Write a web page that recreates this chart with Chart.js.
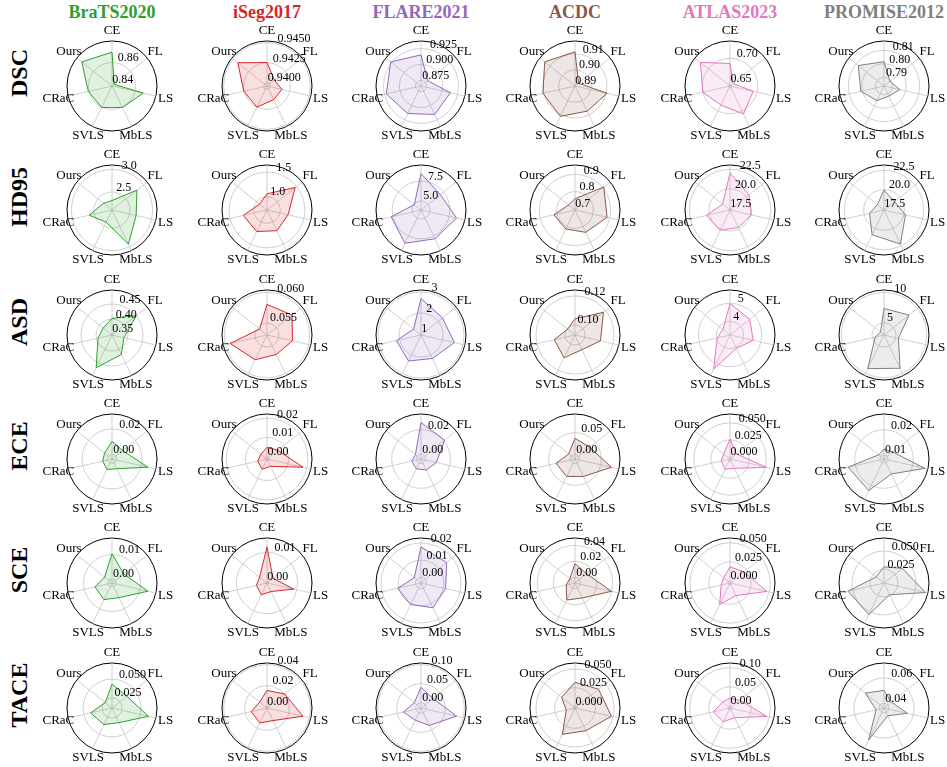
<!DOCTYPE html>
<html><head><meta charset="utf-8">
<script src="https://cdn.jsdelivr.net/npm/chart.js@4.4.1/dist/chart.umd.min.js"></script>
<style>
body{margin:0;background:#fff;width:947px;height:767px;overflow:hidden;position:relative;font-family:"Liberation Serif","Times New Roman",serif;}
canvas{position:absolute;}
.title{position:absolute;font-weight:bold;font-size:18px;line-height:1;transform:translate(-50%,-50%);white-space:nowrap;}
.rowlab{position:absolute;font-weight:bold;font-size:24px;line-height:1;transform:translate(-50%,-50%) rotate(-90deg);white-space:nowrap;color:#000;}
</style></head><body>
<script>
const categories = ['CE','FL','LS','MbLS','SVLS','CRaC','Ours'];
const datasetNames = ['BraTS2020','iSeg2017','FLARE2021','ACDC','ATLAS2023','PROMISE2012'];
const metricNames = ['DSC','HD95','ASD','ECE','SCE','TACE'];
const datasetColors = ['#2ca02c','#d62728','#9467bd','#8c564b','#e377c2','#7f7f7f'];

// ---- DSC ----
const DSC_values = [
  [0.8691,0.8416,0.8675,0.8603,0.8603,0.8607,0.8734],
  [0.94251,0.94076,0.94149,0.94149,0.94251,0.94256,0.94425],
  [0.9149,0.8795,0.9135,0.9156,0.9142,0.9220,0.9269],
  [0.9114,0.8925,0.9106,0.9074,0.9111,0.9106,0.9143],
  [0.6900,0.6543,0.6926,0.7065,0.6874,0.7004,0.7196],
  [0.8016,0.7893,0.7956,0.7919,0.7956,0.8012,0.8079]
];
const DSC_ticks = [['0.84','0.86'],['0.9400','0.9425','0.9450'],['0.875','0.900','0.925'],['0.89','0.90','0.91'],['0.65','0.70'],['0.79','0.80','0.81']];
const DSC_limits = [[0.8392,0.8790],[0.93958,0.94521],[0.8661,0.9368],[0.8896,0.9183],[0.6465,0.7335],[0.7836,0.8169]];

// ---- HD95 ----
const HD95_values = [
  [2.312,2.808,2.649,2.937,2.401,2.619,2.341],
  [1.058,1.462,1.168,1.196,1.214,1.223,0.921],
  [8.454,6.982,8.454,7.888,8.511,7.718,4.943],
  [0.759,0.907,0.884,0.837,0.816,0.819,0.741],
  [22.02,20.42,20.13,19.79,20.19,20.42,18.53],
  [19.93,19.12,20.22,22.26,20.92,19.29,18.48]
];
const HD95_ticks = [['2.5','3.0'],['1.0','1.5'],['5.0','7.5'],['0.7','0.8','0.9'],['17.5','20.0','22.5'],['17.5','20.0','22.5']];
const HD95_limits = [[2.103,3.096],[0.728,1.645],[3.867,9.53],[0.694,0.954],[17.33,23.05],[17.37,23.19]];

// ---- ASD ----
const ASD_values = [
  [0.4022,0.4502,0.3872,0.4187,0.4682,0.3947,0.3842],
  [0.05803,0.05825,0.05730,0.05656,0.05752,0.05921,0.05458],
  [2.688,2.259,2.581,2.195,2.324,2.152,1.402],
  [0.1043,0.1182,0.1111,0.1043,0.1105,0.1077,0.0996],
  [4.99,4.64,4.565,4.065,5.34,3.965,3.74],
  [7.37,8.25,5.46,9.06,9.13,4.51,3.77]
];
const ASD_ticks = [['0.35','0.40','0.45'],['0.055','0.060'],['1','2','3'],['0.10','0.12'],['4','5'],['5','10']];
const ASD_limits = [[0.3467,0.4967],[0.05304,0.06038],[0.952,3.095],[0.0931,0.1241],[3.24,5.74],[3.04,10.38]];

// ---- ECE ----
const ECE_values = [
  [0.0102,0.0070,0.0254,0.0048,0.0055,0.0038,0.0038],
  [0.0049,0.0061,0.0180,0.0031,0.0047,0.0038,0.0029],
  [0.0258,0.0207,0.0090,0.0061,0.0050,0.0039,0.0020],
  [0.0370,0.0328,0.0754,0.0339,0.0339,0.0339,0.0079],
  [0.0259,0.0087,0.0517,0.0120,0.0134,0.0100,0.0087],
  [0.01233,0.01286,0.02494,0.01499,0.02227,0.02298,0.01108]
];
const ECE_ticks = [['0.00','0.02'],['0.00','0.01','0.02'],['0.00','0.02'],['0.00','0.05'],['0.000','0.025','0.050'],['0.01','0.02']];
const ECE_limits = [[-0.00368,0.0318],[-0.0011,0.02216],[-0.0038,0.0327],[-0.0108,0.0931],[-0.0032,0.063],[0.00842,0.02618]];

// ---- SCE ----
const SCE_values = [
  [0.01030,0.00443,0.01342,0.00498,0.00590,0.00553,0.00223],
  [0.01182,0.00216,0.00891,0.00277,0.00400,0.00323,0.00277],
  [0.0177,0.0158,0.0114,0.0127,0.0106,0.0106,0.0017],
  [0.0171,0.0115,0.0396,0.0137,0.0165,0.0042,0.0013],
  [0.0184,0.0208,0.0469,0.0155,0.0285,0.0090,0.0078],
  [0.0281,0.0381,0.0649,0.0237,0.0543,0.0568,0.0193]
];
const SCE_ticks = [['0.00','0.01'],['0.00','0.01'],['0.00','0.01','0.02'],['0.00','0.02','0.04'],['0.000','0.025','0.050'],['0.025','0.050']];
const SCE_limits = [[-0.00163,0.01673],[-0.00045,0.01489],[-0.0033,0.0229],[-0.0071,0.0492],[-0.0029,0.0564],[0.00556,0.0681]];

// ---- TACE ----
const TACE_values = [
  [0.0432,0.0367,0.0610,0.0332,0.0361,0.0409,0.0231],
  [0.0154,0.0202,0.0339,0.0120,0.0146,0.0141,0.0077],
  [0.0405,0.0263,0.0819,0.0369,0.0215,0.0334,0.0085],
  [0.0321,0.0381,0.0478,0.0315,0.0369,0.0098,0.0207],
  [0.0206,0.0276,0.0933,0.0229,0.0347,0.0394,0.0194],
  [0.0502,0.0438,0.0552,0.0431,0.0644,0.0427,0.0552]
];
const TACE_ticks = [['0.025','0.050'],['0.00','0.02','0.04'],['0.00','0.05','0.10'],['0.000','0.025','0.050'],['0.00','0.05','0.10'],['0.04','0.06']];
const TACE_limits = [[0.01184,0.0711],[-0.0013,0.0416],[-0.0140,0.1044],[-0.0022,0.058],[-0.0052,0.1121],[0.03632,0.07184]];

const metricValues = [DSC_values, HD95_values, ASD_values, ECE_values, SCE_values, TACE_values];
const metricTicks = [DSC_ticks, HD95_ticks, ASD_ticks, ECE_ticks, SCE_ticks, TACE_ticks];
const metricLimits = [DSC_limits, HD95_limits, ASD_limits, ECE_limits, SCE_limits, TACE_limits];

// ---- layout ----
const COL_X0 = 112.3, COL_DX = 154.3, ROW_Y0 = 86, ROW_DY = 124.3;
const R = 45, CW = 170, CH = 140;

function hexA(hex, a) {
  const n = parseInt(hex.slice(1), 16);
  return `rgba(${(n>>16)&255},${(n>>8)&255},${n&255},${a})`;
}

const labelPlugin = {
  id: 'polarLabels',
  afterDraw(chart, args, opts) {
    const s = chart.scales.r, ctx = chart.ctx;
    ctx.save();
    ctx.fillStyle = '#000';
    ctx.font = '13px "Liberation Serif"';
    ctx.textAlign = 'center';
    ctx.textBaseline = 'middle';
    categories.forEach((c, i) => {
      const p = s.getPointPosition(i, s.drawingArea + 10);
      ctx.fillText(c, p.x, p.y);
    });
    ctx.font = '12px "Liberation Serif"';
    ctx.textAlign = 'left';
    ctx.textBaseline = 'bottom';
    const a = 14 * Math.PI / 180;
    (opts.labels || []).forEach(t => {
      const d = s.getDistanceFromCenterForValue(parseFloat(t));
      ctx.fillText(t, s.xCenter + d * Math.sin(a), s.yCenter - d * Math.cos(a) + 1);
    });
    ctx.restore();
  }
};

datasetNames.forEach((name, j) => {
  const t = document.createElement('div');
  t.className = 'title';
  t.textContent = name;
  t.style.color = datasetColors[j];
  t.style.left = Math.round(COL_X0 + COL_DX * j) + 'px';
  t.style.top = '12px';
  document.body.appendChild(t);
});

metricNames.forEach((m, i) => {
  const cy = Math.round(ROW_Y0 + ROW_DY * i);
  const rl = document.createElement('div');
  rl.className = 'rowlab';
  rl.textContent = m;
  rl.style.left = '19px';
  rl.style.top = (cy - 13) + 'px';
  document.body.appendChild(rl);

  datasetNames.forEach((name, j) => {
    const cx = Math.round(COL_X0 + COL_DX * j);
    const cv = document.createElement('canvas');
    cv.width = CW; cv.height = CH;
    cv.style.left = (cx - CW / 2) + 'px';
    cv.style.top = (cy - CH / 2) + 'px';
    document.body.appendChild(cv);

    const [mn, mx] = metricLimits[i][j];
    const tickLabels = metricTicks[i][j];
    const tickVals = [mn, ...tickLabels.map(parseFloat), mx];
    const color = datasetColors[j];

    new Chart(cv, {
      type: 'radar',
      data: {
        labels: categories,
        datasets: [{
          data: metricValues[i][j],
          borderColor: color,
          backgroundColor: hexA(color, 0.15),
          borderWidth: 1,
          pointRadius: 0,
          pointHoverRadius: 0,
          fill: 'start',
          tension: 0
        }]
      },
      options: {
        responsive: false,
        animation: false,
        devicePixelRatio: 1,
        layout: { padding: { left: CW / 2 - R, right: CW / 2 - R, top: CH / 2 - R, bottom: CH / 2 - R } },
        plugins: { legend: { display: false }, tooltip: { enabled: false }, polarLabels: { labels: tickLabels } },
        scales: {
          r: {
            min: mn, max: mx,
            startAngle: 0,
            ticks: { display: false },
            pointLabels: { display: false },
            grid: {
              circular: true,
              color: (ctx) => ctx.index === 0 ? 'rgba(0,0,0,0)' : (ctx.index === tickVals.length - 1 ? '#000' : '#c4c4c4'),
              lineWidth: (ctx) => ctx.index === tickVals.length - 1 ? 1 : 0.8
            },
            angleLines: { color: '#c4c4c4', lineWidth: 0.8 },
            afterBuildTicks: (scale) => { scale.ticks = tickVals.map(v => ({ value: v })); }
          }
        }
      },
      plugins: [labelPlugin]
    });
  });
});
</script>
</body></html>
